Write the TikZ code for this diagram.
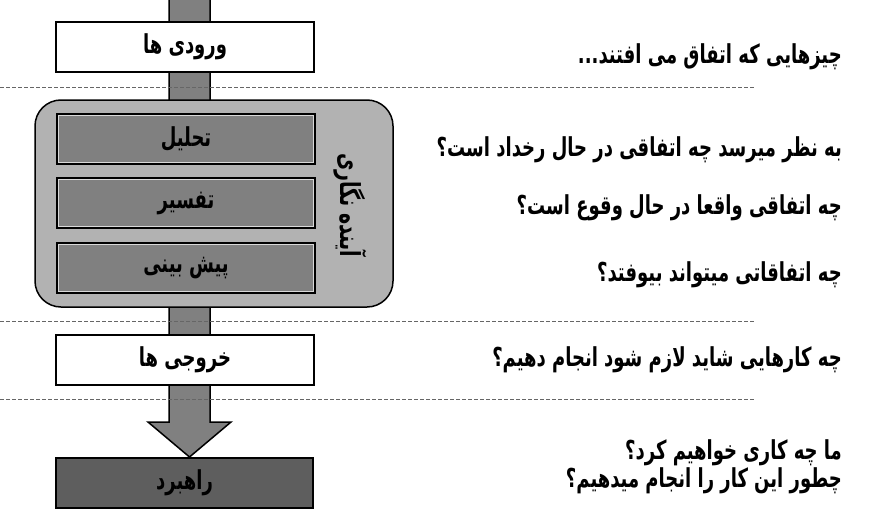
\documentclass[tikz,border=0pt]{standalone}
\usepackage{fontspec}
\usepackage{graphicx}
\newfontfamily\fa[Script=Arabic]{DejaVu Sans}
\TeXXeTstate=1
\usetikzlibrary{calc}
\newcommand\ftx[1]{\scalebox{1}[1.45]{\beginR #1\endR}}
\definecolor{stemgray}{gray}{0.50}
\definecolor{outergray}{gray}{0.70}
\definecolor{innergray}{gray}{0.50}
\definecolor{darkbox}{gray}{0.37}
\definecolor{dashgray}{gray}{0.40}
\tikzset{
  fatext/.style={font=\fa\bfseries\fontsize{18}{22}\selectfont, text=black},
  whitebox/.style={draw=black, line width=1.5pt, fill=white, minimum width=258pt, minimum height=50pt, inner sep=0pt, fatext},
  innerbox/.style={draw=black, line width=1.5pt, fill=innergray, minimum width=258pt, minimum height=50pt, inner sep=0pt},
  darkbox/.style={draw=black, line width=1.5pt, fill=darkbox, minimum width=257pt, minimum height=50pt, inner sep=0pt, fatext},
  outerbox/.style={draw=black, line width=1.5pt, fill=outergray, rounded corners=26pt, minimum width=358pt, minimum height=207pt, inner sep=0pt},
  stemshape/.style={draw=black, line width=1.5pt, fill=stemgray, line join=miter},
  sep/.style={draw=dashgray, line width=0.8pt, dash pattern=on 3.5pt off 2.5pt},
  question/.style={fatext, anchor=east, inner sep=0pt}
}
\begin{document}
\begin{tikzpicture}[x=1pt, y=-1pt]
\useasboundingbox (0,0) rectangle (882,519);
% stem + arrow
\draw[stemshape] (169,-3) -- (169,422) -- (148,422) -- (189.5,457) -- (231,422) -- (210,422) -- (210,-3);
% separators
\draw[sep] (0,87) -- (755,87);
\draw[sep] (0,321) -- (755,321);
\draw[sep] (0,399) -- (755,399);
% boxes
\node[whitebox] (inp) at (185,47) {\ftx{ورودی ها}};
\node[outerbox] (fore) at (214,203.5) {};
\node[innerbox] (an) at (186,139) {};
\node[innerbox] (in) at (186,203) {};
\node[innerbox] (pr) at (186,268) {};
\foreach \n in {an,in,pr}{
  \draw[white!70!gray, line width=0.7pt] ($(\n.south west)+(2,-2)$) rectangle ($(\n.north east)+(-2,2)$);
}
\node[fatext] (anl) at (an) {\ftx{تحلیل}};
\node[fatext] (inl) at (in) {\ftx{تفسیر}};
\node[fatext] (prl) at (pr) {\ftx{پیش بینی}};
\node[fatext, font=\fa\bfseries\fontsize{19}{22}\selectfont, rotate=-90] (forelab) at (350,205) {\ftx{آینده نگاری}};
\node[whitebox] (out) at (185,360) {\ftx{خروجی ها}};
\node[darkbox] (strat) at (184.5,483) {\ftx{راهبرد}};
% questions
\node[question] (q1) at (842,57) {\ftx{چیزهایی که اتفاق می افتند...}};
\node[question] (q2) at (842,150) {\ftx{به نظر میرسد چه اتفاقی در حال رخداد است؟}};
\node[question] (q3) at (842,208) {\ftx{چه اتفاقی واقعا در حال وقوع است؟}};
\node[question] (q4) at (842,275) {\ftx{چه اتفاقاتی میتواند بیوفتد؟}};
\node[question] (q5) at (842,360) {\ftx{چه کارهایی شاید لازم شود انجام دهیم؟}};
\node[question] (q6a) at (842,453) {\ftx{ما چه کاری خواهیم کرد؟}};
\node[question] (q6b) at (842,481) {\ftx{چطور این کار را انجام میدهیم؟}};
\end{tikzpicture}
\end{document}
